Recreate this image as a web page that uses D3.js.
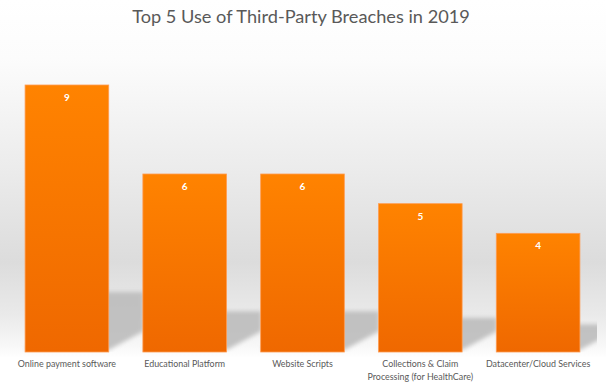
<!DOCTYPE html>
<html>
<head>
<meta charset="utf-8"/>
<script src="https://d3js.org/d3.v7.min.js"></script>
<style>
  body { margin: 0; overflow: hidden; background: #fff; }
  .cat text { font-family: Lato, "Open Sans", sans-serif; font-size: 8.9px; fill: #595959; }
  .val { font-family: Lato, "Open Sans", sans-serif; font-size: 10px; font-weight: bold; fill: #fff; }
  .title { font-family: Lato, "Open Sans", sans-serif; font-size: 18.2px; fill: #595959; }
</style>
</head>
<body>
<svg id="svg" width="606" height="385"></svg>
<script>
var categories = ["Online payment software", "Educational Platform", "Website Scripts",
                  "Collections & Claim|Processing (for HealthCare)", "Datacenter/Cloud Services"];
var counts = [9, 6, 6, 5, 4];
var title = "Top 5 Use of Third-Party Breaches in 2019";

var width = 606, height = 385;
var base = 352;

var svg = d3.select("#svg");
var defs = svg.append("defs");

// background: white fading to grey around the bar bottoms, back to white
var bg = defs.append("linearGradient").attr("id", "bg")
    .attr("x1", 0).attr("y1", 0).attr("x2", 0).attr("y2", 1);
[[0, "#ffffff"], [0.15, "#fcfcfc"], [0.45, "#ebebeb"], [0.68, "#dcdcdc"],
 [0.82, "#eaeaea"], [0.9, "#f8f8f8"], [0.93, "#ffffff"], [1, "#ffffff"]].forEach(function(s) {
  bg.append("stop").attr("offset", s[0]).attr("stop-color", s[1]);
});

var barGrad = defs.append("linearGradient").attr("id", "barGrad")
    .attr("x1", 0).attr("y1", 0).attr("x2", 0).attr("y2", 1);
barGrad.append("stop").attr("offset", 0).attr("stop-color", "#ff8300");
barGrad.append("stop").attr("offset", 1).attr("stop-color", "#ef6800");

defs.append("filter").attr("id", "blur").attr("x", "-20%").attr("y", "-20%")
    .attr("width", "140%").attr("height", "140%")
  .append("feGaussianBlur").attr("stdDeviation", 2.2);

defs.append("clipPath").attr("id", "plotClip")
  .append("rect").attr("x", 0).attr("y", 0).attr("width", 597).attr("height", base);

svg.append("rect").attr("width", width).attr("height", height).attr("fill", "url(#bg)");

svg.append("text").attr("class", "title")
    .attr("x", 301).attr("y", 23)
    .attr("text-anchor", "middle")
    .text(title);

var x = d3.scaleBand()
    .domain(categories)
    .range([8, 597])
    .paddingInner(0.29)
    .paddingOuter(0.145);

var y = d3.scaleLinear().domain([0, 9]).range([base, 85]);

// shadow height scale (perspective shadow on the back wall)
var sh = d3.scaleLinear().domain([0, 9]).range([0, 58]);

var shadows = svg.append("g").attr("clip-path", "url(#plotClip)")
  .append("g").attr("filter", "url(#blur)");

shadows.selectAll("polygon")
  .data(categories)
  .enter().append("polygon")
    .attr("points", function(d, i) {
      var x0 = x(d), x1 = x(d) + x.bandwidth(), b = base - 2, dx = 35, top = b - sh(counts[i]);
      return [[x0, b], [x1, b], [x1 + dx, b - 19], [x1 + dx, top], [x0 + dx, top]].join(" ");
    })
    .attr("fill", "#bdbdbd")
    .attr("opacity", 0.9);

svg.selectAll("rect.bar")
  .data(categories)
  .enter().append("rect")
    .attr("class", "bar")
    .attr("x", function(d) { return x(d); })
    .attr("y", function(d, i) { return y(counts[i]); })
    .attr("width", x.bandwidth())
    .attr("height", function(d, i) { return base - y(counts[i]); })
    .attr("fill", "url(#barGrad)")
    .attr("stroke", "#ff9c52")
    .attr("stroke-width", 0.8);

svg.selectAll("text.val")
  .data(categories)
  .enter().append("text")
    .attr("class", "val")
    .attr("x", function(d) { return x(d) + x.bandwidth() / 2; })
    .attr("y", function(d, i) { return y(counts[i]) + 16; })
    .attr("text-anchor", "middle")
    .text(function(d, i) { return counts[i]; });

var xAxisG = svg.append("g")
    .attr("class", "cat")
    .attr("transform", "translate(0," + base + ")")
    .call(d3.axisBottom(x).tickSize(0).tickFormat(""));
xAxisG.select(".domain").remove();

xAxisG.selectAll(".tick text")
    .attr("y", 15)
    .attr("dy", 0)
    .each(function(d) {
      var t = d3.select(this);
      d.split("|").forEach(function(line, k) {
        t.append("tspan").attr("x", 0).attr("dy", k ? 12.7 : 0).text(line);
      });
    });
</script>
</body>
</html>
